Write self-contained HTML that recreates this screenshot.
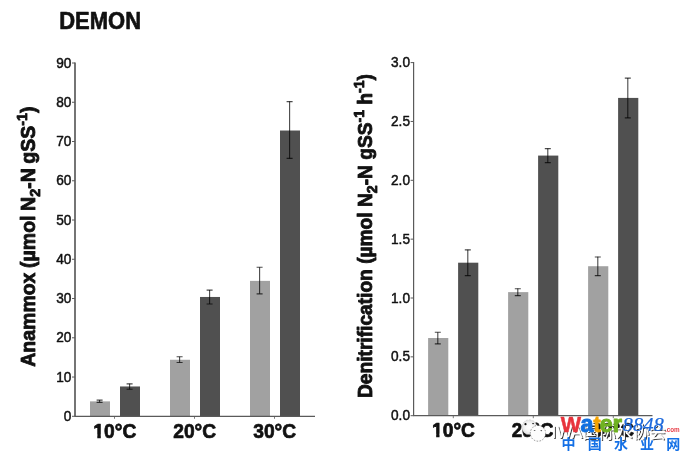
<!DOCTYPE html>
<html><head><meta charset="utf-8"><title>DEMON</title>
<style>
html,body{margin:0;padding:0;background:#fff;}
body{width:689px;height:461px;overflow:hidden;position:relative;}
svg{position:absolute;left:0;top:0;display:block;}
text{font-family:"Liberation Sans","Noto Sans CJK SC",sans-serif;}
</style></head><body>
<svg width="689" height="461" viewBox="0 0 689 461">
<defs><radialGradient id="bg1" cx="0.5" cy="0.5" r="0.5"><stop offset="0" stop-color="#fff"/><stop offset="0.55" stop-color="#f6f6f6"/><stop offset="1" stop-color="#e2e2e2"/></radialGradient><filter id="ds" x="-5%" y="-20%" width="110%" height="140%"><feDropShadow dx="1" dy="0.9" stdDeviation="0.2" flood-color="#2a2a2a" flood-opacity="0.95"/></filter></defs>
<g>
<g>
<text xml:space="preserve" transform="translate(59.2 29.4) scale(1.0 1.06)" text-anchor="start" style="font-size:22px;font-weight:bold;stroke:#111;stroke-width:0.6px;stroke-linejoin:round;" fill="#111">DEMON</text>
<rect x="90" y="401.38" width="20" height="14.92" fill="#a1a1a1"/>
<path d="M99.6 400.01V402.36" stroke="#000" stroke-opacity="0.72" stroke-width="1.1" fill="none"/>
<path d="M96.60 400.16H102.60M96.60 402.36H102.60" stroke="#000" stroke-opacity="0.7" stroke-width="1.15" fill="none"/>
<rect x="120" y="386.47" width="20" height="29.83" fill="#505050"/>
<path d="M129.6 383.72V389.21" stroke="#000" stroke-opacity="0.72" stroke-width="1.1" fill="none"/>
<path d="M126.60 383.87H132.60M126.60 389.21H132.60" stroke="#000" stroke-opacity="0.7" stroke-width="1.15" fill="none"/>
<rect x="170" y="359.77" width="20" height="56.53" fill="#a1a1a1"/>
<path d="M179.6 356.63V362.52" stroke="#000" stroke-opacity="0.72" stroke-width="1.1" fill="none"/>
<path d="M176.60 356.78H182.60M176.60 362.52H182.60" stroke="#000" stroke-opacity="0.7" stroke-width="1.15" fill="none"/>
<rect x="200" y="296.96" width="20" height="119.34" fill="#505050"/>
<path d="M209.6 289.90V304.03" stroke="#000" stroke-opacity="0.72" stroke-width="1.1" fill="none"/>
<path d="M206.60 290.05H212.60M206.60 304.03H212.60" stroke="#000" stroke-opacity="0.7" stroke-width="1.15" fill="none"/>
<rect x="250" y="280.87" width="20" height="135.43" fill="#a1a1a1"/>
<path d="M259.6 267.13V293.82" stroke="#000" stroke-opacity="0.72" stroke-width="1.1" fill="none"/>
<path d="M256.60 267.28H262.60M256.60 293.82H262.60" stroke="#000" stroke-opacity="0.7" stroke-width="1.15" fill="none"/>
<rect x="280" y="130.52" width="20" height="285.78" fill="#505050"/>
<path d="M289.6 101.47V158.39" stroke="#000" stroke-opacity="0.72" stroke-width="1.1" fill="none"/>
<path d="M286.60 101.62H292.60M286.60 158.39H292.60" stroke="#000" stroke-opacity="0.7" stroke-width="1.15" fill="none"/>
<path d="M75 62.5V416.3" stroke="#3a3a3a" stroke-width="1.4" fill="none"/>
<path d="M74.5 416.3H315" stroke="#5a5a5a" stroke-width="1.2" fill="none"/>
<path d="M114.5 416.3v2.5" stroke="#5a5a5a" stroke-width="0.8"/>
<path d="M194.5 416.3v2.5" stroke="#5a5a5a" stroke-width="0.8"/>
<path d="M274.5 416.3v2.5" stroke="#5a5a5a" stroke-width="0.8"/>
<path d="M72 416.30H75" stroke="#5a5a5a" stroke-width="1"/>
<text xml:space="preserve" transform="translate(71.4 420.9) scale(0.99 1.1)" text-anchor="end" style="font-size:13.8px;stroke:#111;stroke-width:0.45px;stroke-linejoin:round;" fill="#111">0</text>
<path d="M72 377.04H75" stroke="#5a5a5a" stroke-width="1"/>
<text xml:space="preserve" transform="translate(71.4 381.64) scale(0.99 1.1)" text-anchor="end" style="font-size:13.8px;stroke:#111;stroke-width:0.45px;stroke-linejoin:round;" fill="#111">10</text>
<path d="M72 337.79H75" stroke="#5a5a5a" stroke-width="1"/>
<text xml:space="preserve" transform="translate(71.4 342.39) scale(0.99 1.1)" text-anchor="end" style="font-size:13.8px;stroke:#111;stroke-width:0.45px;stroke-linejoin:round;" fill="#111">20</text>
<path d="M72 298.53H75" stroke="#5a5a5a" stroke-width="1"/>
<text xml:space="preserve" transform="translate(71.4 303.13) scale(0.99 1.1)" text-anchor="end" style="font-size:13.8px;stroke:#111;stroke-width:0.45px;stroke-linejoin:round;" fill="#111">30</text>
<path d="M72 259.28H75" stroke="#5a5a5a" stroke-width="1"/>
<text xml:space="preserve" transform="translate(71.4 263.88) scale(0.99 1.1)" text-anchor="end" style="font-size:13.8px;stroke:#111;stroke-width:0.45px;stroke-linejoin:round;" fill="#111">40</text>
<path d="M72 220.02H75" stroke="#5a5a5a" stroke-width="1"/>
<text xml:space="preserve" transform="translate(71.4 224.62) scale(0.99 1.1)" text-anchor="end" style="font-size:13.8px;stroke:#111;stroke-width:0.45px;stroke-linejoin:round;" fill="#111">50</text>
<path d="M72 180.77H75" stroke="#5a5a5a" stroke-width="1"/>
<text xml:space="preserve" transform="translate(71.4 185.37) scale(0.99 1.1)" text-anchor="end" style="font-size:13.8px;stroke:#111;stroke-width:0.45px;stroke-linejoin:round;" fill="#111">60</text>
<path d="M72 141.51H75" stroke="#5a5a5a" stroke-width="1"/>
<text xml:space="preserve" transform="translate(71.4 146.11) scale(0.99 1.1)" text-anchor="end" style="font-size:13.8px;stroke:#111;stroke-width:0.45px;stroke-linejoin:round;" fill="#111">70</text>
<path d="M72 102.26H75" stroke="#5a5a5a" stroke-width="1"/>
<text xml:space="preserve" transform="translate(71.4 106.86) scale(0.99 1.1)" text-anchor="end" style="font-size:13.8px;stroke:#111;stroke-width:0.45px;stroke-linejoin:round;" fill="#111">80</text>
<path d="M72 63.00H75" stroke="#5a5a5a" stroke-width="1"/>
<text xml:space="preserve" transform="translate(71.4 67.6) scale(0.99 1.1)" text-anchor="end" style="font-size:13.8px;stroke:#111;stroke-width:0.45px;stroke-linejoin:round;" fill="#111">90</text>
<text xml:space="preserve" transform="translate(114.8 437.7) scale(0.985 1.07)" text-anchor="middle" style="font-size:19.5px;font-weight:bold;stroke:#111;stroke-width:0.7px;stroke-linejoin:round;" fill="#111">10°C</text>
<text xml:space="preserve" transform="translate(194.7 437.7) scale(0.985 1.07)" text-anchor="middle" style="font-size:19.5px;font-weight:bold;stroke:#111;stroke-width:0.7px;stroke-linejoin:round;" fill="#111">20°C</text>
<text xml:space="preserve" transform="translate(274.7 437.7) scale(0.985 1.07)" text-anchor="middle" style="font-size:19.5px;font-weight:bold;stroke:#111;stroke-width:0.7px;stroke-linejoin:round;" fill="#111">30°C</text>
<text xml:space="preserve" transform="translate(35.1 236.6) rotate(-90) scale(1.026 1.08)" text-anchor="middle" style="font-size:19px;font-weight:bold;word-spacing:-0.75px;stroke:#111;stroke-width:0.8px;stroke-linejoin:round;" fill="#111"><tspan dy="0">Anammox (µmol N</tspan><tspan dy="4.5" style="font-size:14px">2</tspan><tspan dy="-4.5">-N gSS</tspan><tspan dy="-7.6" style="font-size:14px">-1</tspan><tspan dy="7.6">)</tspan></text>
<rect x="428.1" y="338.02" width="20.2" height="77.68" fill="#a1a1a1"/>
<path d="M437.8 332.13V343.90" stroke="#000" stroke-opacity="0.72" stroke-width="1.1" fill="none"/>
<path d="M434.80 332.28H440.80M434.80 343.90H440.80" stroke="#000" stroke-opacity="0.7" stroke-width="1.15" fill="none"/>
<rect x="458.1" y="262.69" width="20.2" height="153.01" fill="#505050"/>
<path d="M467.8 249.74V275.64" stroke="#000" stroke-opacity="0.72" stroke-width="1.1" fill="none"/>
<path d="M464.80 249.89H470.80M464.80 275.64H470.80" stroke="#000" stroke-opacity="0.7" stroke-width="1.15" fill="none"/>
<rect x="508.1" y="292.12" width="20.2" height="123.58" fill="#a1a1a1"/>
<path d="M517.8 288.58V295.65" stroke="#000" stroke-opacity="0.72" stroke-width="1.1" fill="none"/>
<path d="M514.80 288.73H520.80M514.80 295.65H520.80" stroke="#000" stroke-opacity="0.7" stroke-width="1.15" fill="none"/>
<rect x="538.1" y="155.58" width="20.2" height="260.12" fill="#505050"/>
<path d="M547.8 148.52V162.65" stroke="#000" stroke-opacity="0.72" stroke-width="1.1" fill="none"/>
<path d="M544.80 148.67H550.80M544.80 162.65H550.80" stroke="#000" stroke-opacity="0.7" stroke-width="1.15" fill="none"/>
<rect x="588.1" y="266.22" width="20.2" height="149.48" fill="#a1a1a1"/>
<path d="M597.8 256.80V275.64" stroke="#000" stroke-opacity="0.72" stroke-width="1.1" fill="none"/>
<path d="M594.80 256.95H600.80M594.80 275.64H600.80" stroke="#000" stroke-opacity="0.7" stroke-width="1.15" fill="none"/>
<rect x="618.1" y="97.91" width="20.2" height="317.79" fill="#505050"/>
<path d="M627.8 77.90V117.92" stroke="#000" stroke-opacity="0.72" stroke-width="1.1" fill="none"/>
<path d="M624.80 78.05H630.80M624.80 117.92H630.80" stroke="#000" stroke-opacity="0.7" stroke-width="1.15" fill="none"/>
<path d="M413.6 62.1V415.7" stroke="#5a5a5a" stroke-width="1.2" fill="none"/>
<path d="M413.1 415.7H652.5" stroke="#5a5a5a" stroke-width="1.2" fill="none"/>
<path d="M453.3 415.7v2.5" stroke="#5a5a5a" stroke-width="0.8"/>
<path d="M533.3 415.7v2.5" stroke="#5a5a5a" stroke-width="0.8"/>
<path d="M613.3 415.7v2.5" stroke="#5a5a5a" stroke-width="0.8"/>
<path d="M410.6 415.70H413.6" stroke="#5a5a5a" stroke-width="1"/>
<text xml:space="preserve" transform="translate(410.0 420.3) scale(0.99 1.1)" text-anchor="end" style="font-size:13.8px;stroke:#111;stroke-width:0.45px;stroke-linejoin:round;" fill="#111">0.0</text>
<path d="M410.6 356.85H413.6" stroke="#5a5a5a" stroke-width="1"/>
<text xml:space="preserve" transform="translate(410.0 361.45) scale(0.99 1.1)" text-anchor="end" style="font-size:13.8px;stroke:#111;stroke-width:0.45px;stroke-linejoin:round;" fill="#111">0.5</text>
<path d="M410.6 298.00H413.6" stroke="#5a5a5a" stroke-width="1"/>
<text xml:space="preserve" transform="translate(410.0 302.6) scale(0.99 1.1)" text-anchor="end" style="font-size:13.8px;stroke:#111;stroke-width:0.45px;stroke-linejoin:round;" fill="#111">1.0</text>
<path d="M410.6 239.15H413.6" stroke="#5a5a5a" stroke-width="1"/>
<text xml:space="preserve" transform="translate(410.0 243.75) scale(0.99 1.1)" text-anchor="end" style="font-size:13.8px;stroke:#111;stroke-width:0.45px;stroke-linejoin:round;" fill="#111">1.5</text>
<path d="M410.6 180.30H413.6" stroke="#5a5a5a" stroke-width="1"/>
<text xml:space="preserve" transform="translate(410.0 184.9) scale(0.99 1.1)" text-anchor="end" style="font-size:13.8px;stroke:#111;stroke-width:0.45px;stroke-linejoin:round;" fill="#111">2.0</text>
<path d="M410.6 121.45H413.6" stroke="#5a5a5a" stroke-width="1"/>
<text xml:space="preserve" transform="translate(410.0 126.05) scale(0.99 1.1)" text-anchor="end" style="font-size:13.8px;stroke:#111;stroke-width:0.45px;stroke-linejoin:round;" fill="#111">2.5</text>
<path d="M410.6 62.60H413.6" stroke="#5a5a5a" stroke-width="1"/>
<text xml:space="preserve" transform="translate(410.0 67.2) scale(0.99 1.1)" text-anchor="end" style="font-size:13.8px;stroke:#111;stroke-width:0.45px;stroke-linejoin:round;" fill="#111">3.0</text>
<text xml:space="preserve" transform="translate(453.5 437.2) scale(0.985 1.07)" text-anchor="middle" style="font-size:19.5px;font-weight:bold;stroke:#111;stroke-width:0.7px;stroke-linejoin:round;" fill="#111">10°C</text>
<text xml:space="preserve" transform="translate(532.6 437.2) scale(0.960375 1.07)" text-anchor="middle" style="font-size:19.5px;font-weight:bold;stroke:#111;stroke-width:0.7px;stroke-linejoin:round;" fill="#111">20°C</text>
<text xml:space="preserve" transform="translate(612.7 437.2) scale(0.985 1.07)" text-anchor="middle" style="font-size:19.5px;font-weight:bold;stroke:#111;stroke-width:0.7px;stroke-linejoin:round;" fill="#111">30°C</text>
<path d="M93.4 434.5H97.29V439H93.4ZM100.79 434.5H104.25V439H100.79ZM431.4 433.7H436.16V438.3H431.4ZM439.51 433.7H443.3V438.3H439.51Z" fill="#fff"/>
<text xml:space="preserve" transform="translate(372.3 236.0) rotate(-90) scale(1.009 1.08)" text-anchor="middle" style="font-size:19px;font-weight:bold;stroke:#111;stroke-width:0.8px;stroke-linejoin:round;" fill="#111"><tspan dy="0">Denitrification (µmol N</tspan><tspan dy="4.5" style="font-size:14px">2</tspan><tspan dy="-4.5">-N gSS</tspan><tspan dy="-7.6" style="font-size:14px">-1</tspan><tspan dy="7.6"> h</tspan><tspan dy="-7.6" style="font-size:14px">-1</tspan><tspan dy="7.6">)</tspan></text>
</g>
<g>
<ellipse cx="529.3" cy="427.2" rx="7.6" ry="7.4" fill="url(#bg1)" stroke="#aaa" stroke-width="0.35" stroke-dasharray="2 1.5"/><ellipse cx="538" cy="433.3" rx="7.7" ry="7.9" fill="#fdfdfd" stroke="#333" stroke-width="0.5" stroke-dasharray="1.6 1.4"/>
<circle cx="525.5" cy="424.2" r="1.1" fill="#111"/><ellipse cx="533.1" cy="423.6" rx="1.1" ry="0.6" fill="#333"/><ellipse cx="534.6" cy="430.5" rx="0.9" ry="0.5" fill="#666"/><ellipse cx="541.3" cy="430.6" rx="0.9" ry="0.6" fill="#555"/>
<text x="551.7" y="437.5" filter="url(#ds)" style="font-size:16.5px;letter-spacing:0.16px;fill:#fff;">IWA国际水协会</text>
</g>
<g>
<text y="432.2" style="font-weight:bold;stroke-width:0.9px;stroke-linejoin:round"><tspan x="560.7" style="font-size:21.5px;stroke-width:0.5px" fill="#e8333c" stroke="#e8333c">W</tspan><tspan x="580.6" style="font-size:23.3px" fill="#0f6fe0" stroke="#0f6fe0">a</tspan><tspan x="593.5" style="font-size:21.3px" fill="#f5a300" stroke="#f5a300">t</tspan><tspan x="599.7" style="font-size:23.3px" fill="#6fb220" stroke="#6fb220">e</tspan><tspan x="612.6" style="font-size:24.6px" fill="#6fb220" stroke="#6fb220">r</tspan></text>
<text transform="translate(622.6 430.9) scale(1.1 1)" style="font-family:'Liberation Serif',serif;font-size:18.7px;font-style:italic;stroke:#1c68dc;stroke-width:0.25px" fill="#1c68dc">8848</text>
<text x="665" y="432.1" style="font-size:6.3px;font-weight:bold" fill="#e8404a">.com</text>
<text x="561.5" y="449.3" style="font-size:14px;font-weight:bold;letter-spacing:12.2px" fill="#1470e6">中国水业网</text>
</g>
</g>
</svg>
</body></html>
